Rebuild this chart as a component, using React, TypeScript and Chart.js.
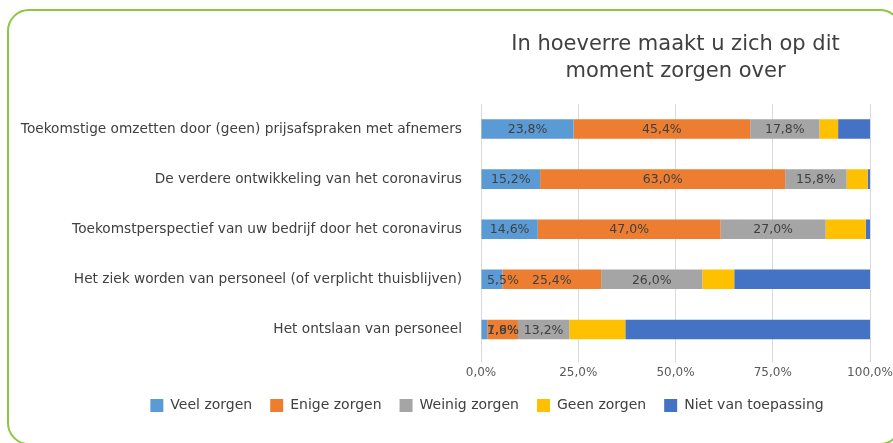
import React, { useEffect, useRef } from "react";
import { Chart, registerables } from "chart.js";

Chart.register(...registerables);

const titleLines = ["In hoeverre maakt u zich op dit", "moment zorgen over"];

const categories = [
  "Toekomstige omzetten door (geen) prijsafspraken met afnemers",
  "De verdere ontwikkeling van het coronavirus",
  "Toekomstperspectief van uw bedrijf door het coronavirus",
  "Het ziek worden van personeel (of verplicht thuisblijven)",
  "Het ontslaan van personeel",
];

const seriesNames = ["Veel zorgen", "Enige zorgen", "Weinig zorgen", "Geen zorgen", "Niet van toepassing"];

const veelZorgen = [23.8, 15.2, 14.6, 5.5, 1.6];
const enigeZorgen = [45.4, 63.0, 47.0, 25.4, 7.9];
const weinigZorgen = [17.8, 15.8, 27.0, 26.0, 13.2];
const geenZorgen = [4.8, 5.4, 10.3, 8.2, 14.4];
const nietVanToepassing = [8.2, 0.6, 1.1, 34.9, 62.9];

const seriesValues = [veelZorgen, enigeZorgen, weinigZorgen, geenZorgen, nietVanToepassing];
const seriesColors = ["#5B9BD5", "#ED7D31", "#A5A5A5", "#FFC000", "#4472C4"];
const labelledSeries = [true, true, true, false, false];

const xTicks = [0, 25, 50, 75, 100];

const FONT = "'DejaVu Sans', sans-serif";

const fmt = (v: number) => v.toFixed(1).replace(".", ",") + "%";

const dataLabelPlugin = {
  id: "segLabels",
  afterDatasetsDraw(chart: any) {
    const ctx = chart.ctx;
    const area = chart.chartArea;
    ctx.save();
    ctx.font = `12.5px ${FONT}`;
    ctx.fillStyle = "#404040";
    ctx.textAlign = "center";
    ctx.textBaseline = "middle";
    chart.data.datasets.forEach((ds: any, di: number) => {
      if (!labelledSeries[di]) return;
      const meta = chart.getDatasetMeta(di);
      meta.data.forEach((el: any, i: number) => {
        const text = fmt(ds.data[i]);
        const w = ctx.measureText(text).width;
        let cx = (el.x + el.base) / 2;
        const minX = area.left + w / 2 + 6;
        if (cx < minX) cx = minX;
        ctx.fillText(text, cx, el.y + 1);
      });
    });
    ctx.restore();
  },
};

const legendShiftPlugin = {
  id: "legendShift",
  afterLayout(chart: any) {
    const lg = chart.legend;
    if (lg) {
      lg.left += 52;
      lg.right += 52;
    }
  },
};

export default function App() {
  const ref = useRef<HTMLCanvasElement>(null);

  useEffect(() => {
    document.body.style.margin = "0";
    const canvas = ref.current;
    if (!canvas) return;
    const chart = new Chart(canvas, {
      type: "bar",
      data: {
        labels: categories,
        datasets: seriesNames.map((name, i) => ({
          label: name,
          data: seriesValues[i],
          backgroundColor: seriesColors[i],
          borderWidth: 0,
          barPercentage: 0.39,
          categoryPercentage: 1,
        })),
      },
      options: {
        animation: false,
        responsive: false,
        indexAxis: "y",
        layout: { padding: { left: 0, right: 23, top: 0, bottom: 20.5 } },
        scales: {
          x: {
            stacked: true,
            min: 0,
            max: 100,
            afterBuildTicks: (scale: any) => {
              scale.ticks = xTicks.map((v) => ({ value: v }));
            },
            afterFit: (scale: any) => {
              scale.height = 26;
              scale.paddingLeft = 0;
              scale.paddingRight = 0;
            },
            ticks: {
              callback: (v: any) => fmt(Number(v)),
              color: "#595959",
              font: { family: FONT, size: 12 },
              padding: 3,
              maxRotation: 0,
            },
            grid: { color: "#D9D9D9", tickLength: 8, lineWidth: 1 },
            border: { display: false },
          },
          y: {
            stacked: true,
            afterFit: (scale: any) => {
              scale.width = 481;
              scale.paddingTop = 0;
              scale.paddingBottom = 0;
            },
            ticks: {
              color: "#404040",
              font: { family: FONT, size: 13.7 },
              padding: 19,
            },
            grid: { display: false, drawTicks: false },
            border: { display: false },
          },
        },
        plugins: {
          title: {
            display: true,
            text: titleLines,
            fullSize: false,
            color: "#404040",
            font: { family: FONT, size: 21, weight: "normal", lineHeight: 1.24 },
            padding: { top: 32, bottom: 19.9 },
          },
          legend: {
            position: "bottom",
            labels: {
              boxWidth: 13,
              boxHeight: 13,
              padding: 18,
              color: "#404040",
              font: { family: FONT, size: 14 },
            },
          },
          tooltip: { enabled: false },
        },
      },
      plugins: [dataLabelPlugin, legendShiftPlugin],
    } as any);
    return () => chart.destroy();
  }, []);

  return (
    <div style={{ position: "relative", width: 893, height: 443, overflow: "hidden", background: "#fff" }}>
      <div
        style={{
          position: "absolute",
          left: 7,
          top: 9,
          width: 895,
          height: 436,
          border: "2px solid #8DC63F",
          borderRadius: 22,
          boxSizing: "border-box",
        }}
      />
      <canvas ref={ref} width={893} height={443} style={{ position: "absolute", left: 0, top: 0 }} />
    </div>
  );
}
